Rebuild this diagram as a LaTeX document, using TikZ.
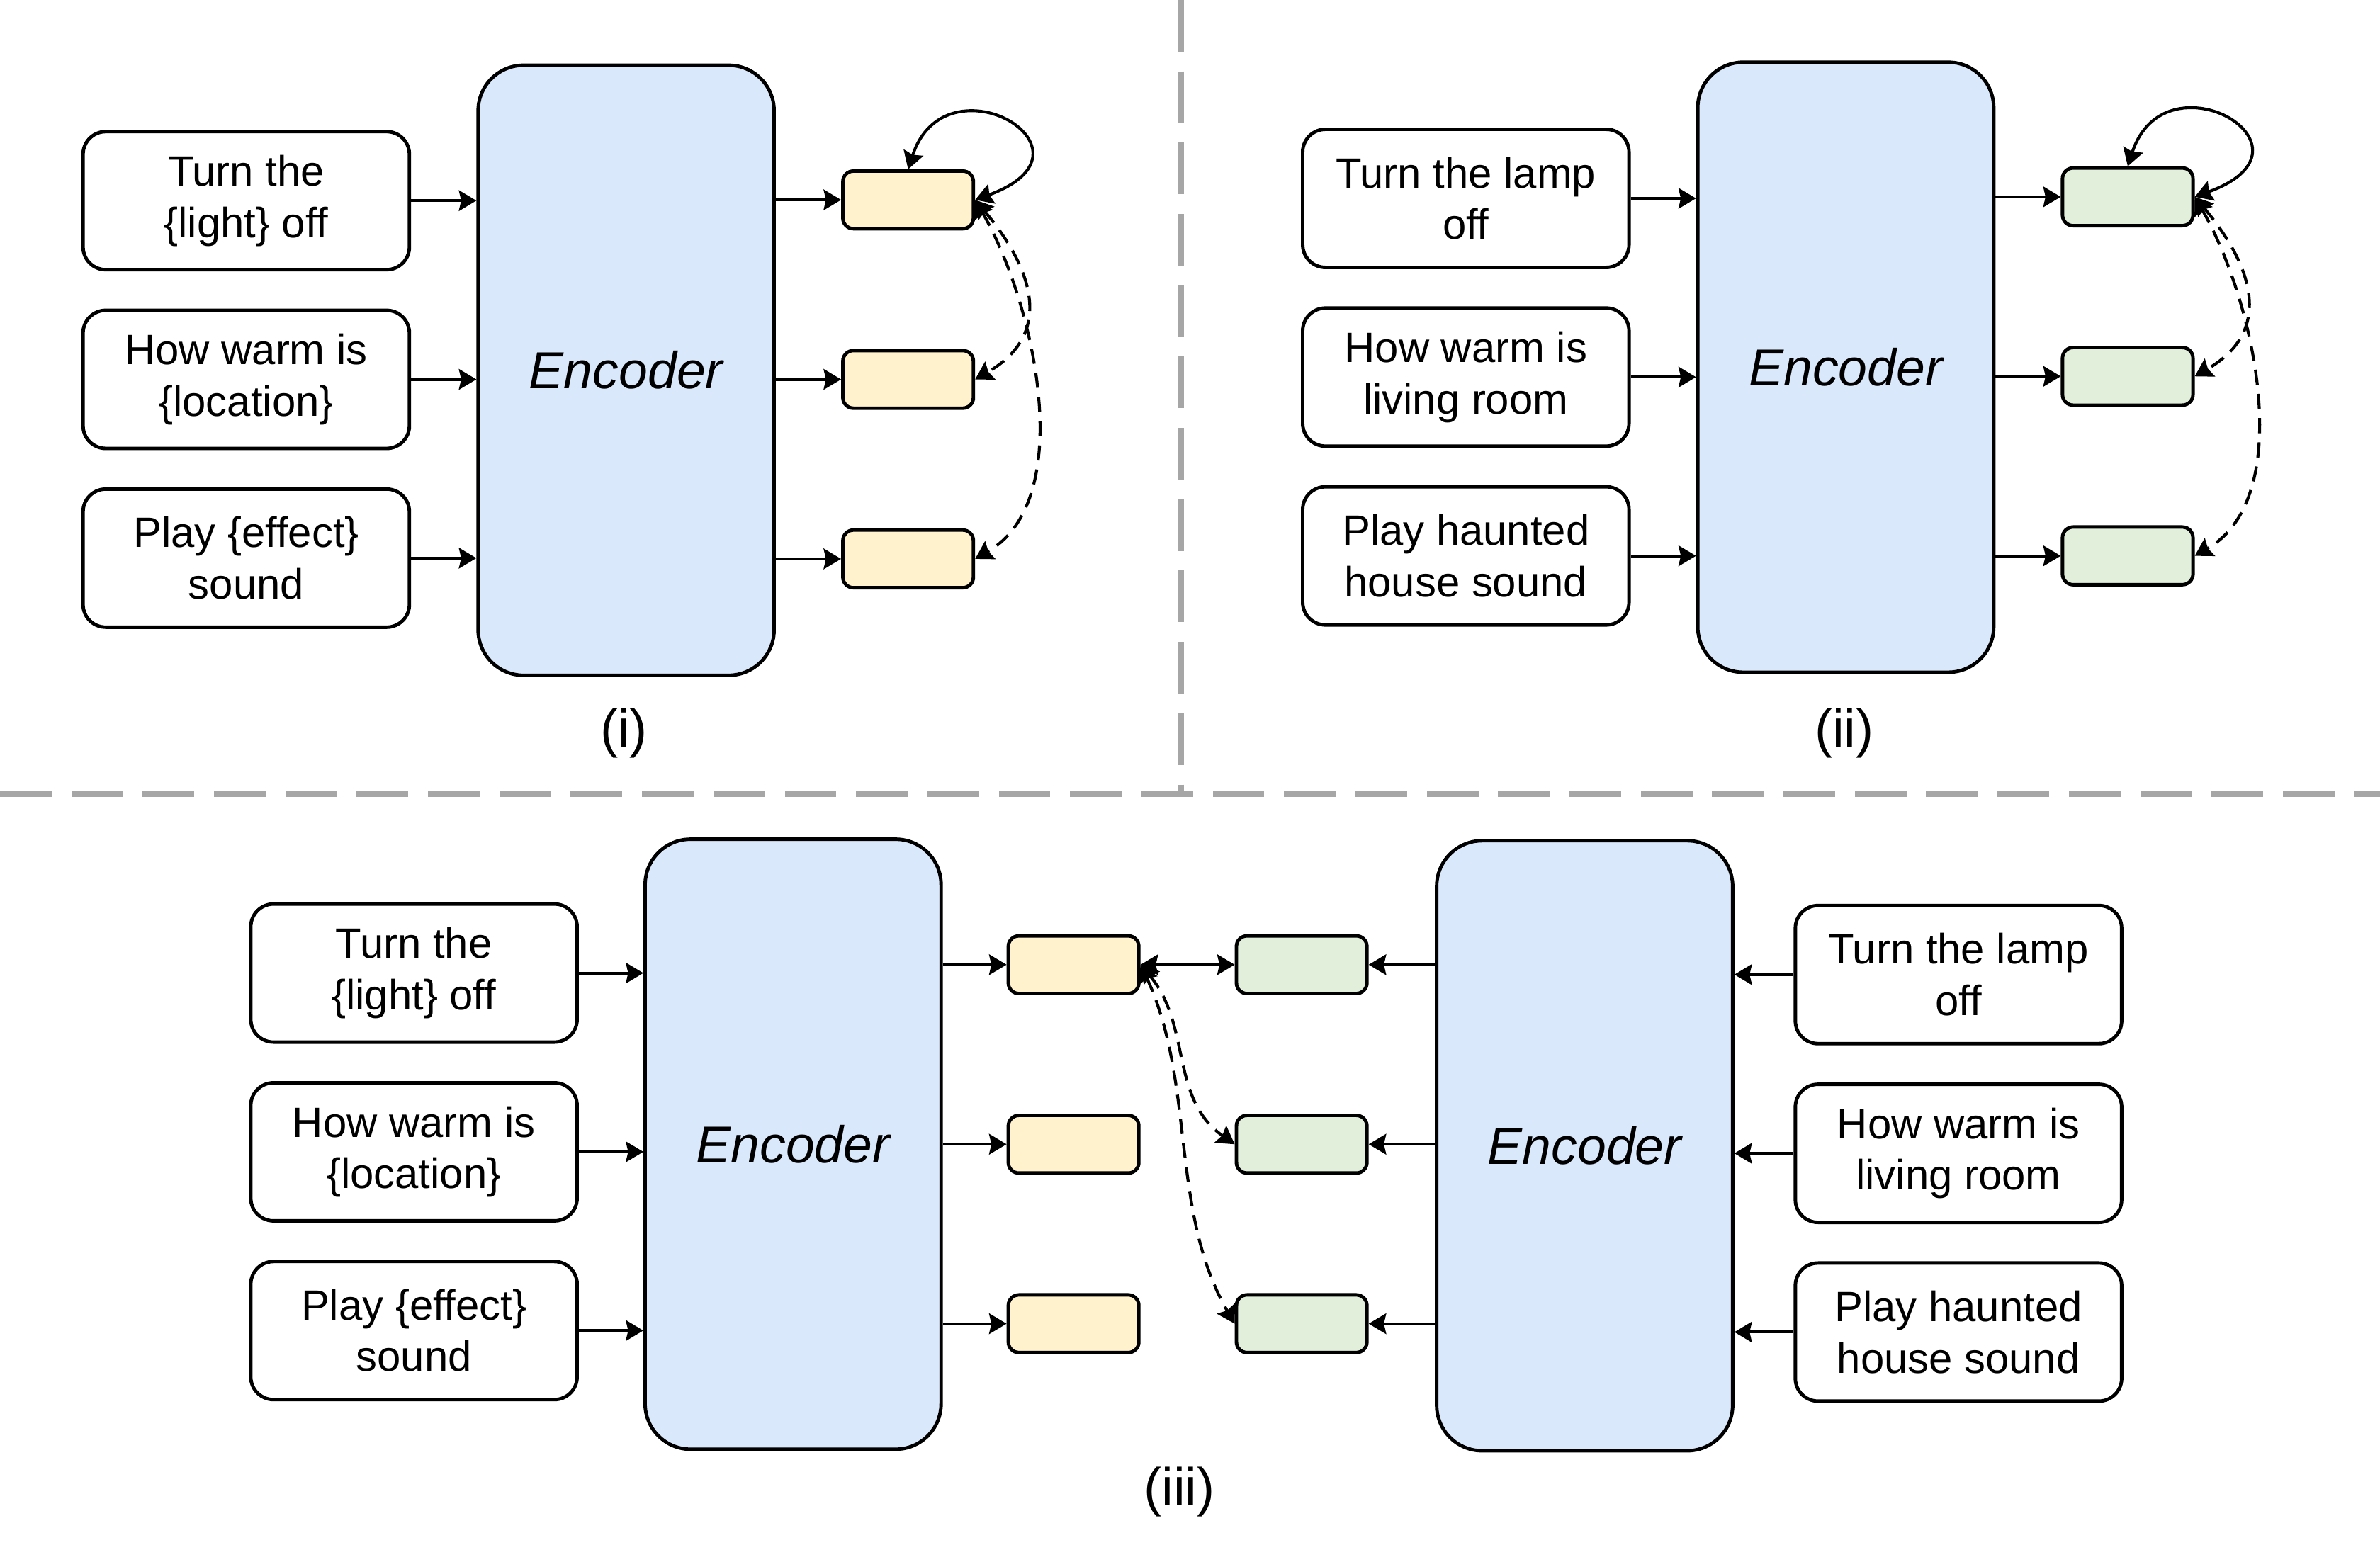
\documentclass[tikz,border=0pt]{standalone}
\usepackage{fontspec}
\setmainfont{Liberation Sans}
\usepackage{tikz}
\usetikzlibrary{positioning,arrows.meta}
\definecolor{encfill}{HTML}{DAE8FC}
\definecolor{yelfill}{HTML}{FFF2CC}
\definecolor{grnfill}{HTML}{E2EFDA}
\definecolor{sepgray}{HTML}{A6A6A6}

\begin{document}
\begin{tikzpicture}[
    >={Stealth[length=2.3mm,width=2.7mm,inset=0.3mm]},
    inbox/.style={draw, line width=1.3pt, rounded corners=3mm, minimum width=4.3cm, minimum height=1.82cm, align=center, font=\fontsize{15.9}{19.3}\selectfont},
    enc/.style={draw, line width=1.3pt, fill=encfill, rounded corners=6mm, minimum width=3.9cm, minimum height=8.04cm, font=\fontsize{19.5}{23}\selectfont\itshape},
    vec/.style={draw, line width=1.3pt, rounded corners=1.4mm, minimum width=1.72cm, minimum height=0.76cm},
    yvec/.style={vec, fill=yelfill},
    gvec/.style={vec, fill=grnfill},
    arr/.style={->, line width=1.1pt},
    link/.style={<->, line width=1.1pt},
    dlink/.style={<->, line width=1.1pt, dash pattern=on 2mm off 1.2mm},
    sep/.style={draw=sepgray, line width=0.08cm, dash pattern=on 0.68cm off 0.26cm},
    tag/.style={font=\fontsize{20}{24}\selectfont}
]
    \useasboundingbox (0,0) rectangle (31.36,20.58);

    % separators
    \draw[sep] (15.56,20.58) -- (15.56,10.12);
    \draw[sep] (0,10.12) -- (31.36,10.12);

    % (i)
    \node[enc] (enc1) at (8.25,15.70) {Encoder};
    \node[inbox, left=0.86cm of enc1, yshift=-0.12cm] (in12) {How warm is\\\{location\}};
    \node[inbox, above=0.49cm of in12] (in11) {Turn the\\\{light\} off};
    \node[inbox, below=0.49cm of in12] (in13) {Play \{effect\}\\sound};
    \node[yvec, right=0.86cm of enc1, yshift=-0.12cm] (y12) {};
    \node[yvec, above=1.56cm of y12] (y11) {};
    \node[yvec, below=1.56cm of y12] (y13) {};
    \node[tag] (lab1) at (8.22,10.92) {(i)};

    \foreach \i in {1,2,3} {
        \draw[arr] (in1\i) -- (in1\i -| enc1.west);
        \draw[arr] (y1\i -| enc1.east) -- (y1\i);
    }
    \draw[link] (y11.east) .. controls +(20:1.9) and +(72:1.6) .. (y11.north);
    \draw[dlink] (y11.east) to[out=-50, in=30, looseness=1.3] (y12.east);
    \draw[dlink] (y11.east) to[out=-60, in=30, looseness=0.85] (y13.east);

    % (ii)
    \node[enc] (enc2) at (24.32,15.74) {Encoder};
    \node[inbox, left=0.86cm of enc2, yshift=-0.13cm] (in22) {How warm is\\living room};
    \node[inbox, above=0.49cm of in22] (in21) {Turn the lamp\\off};
    \node[inbox, below=0.49cm of in22] (in23) {Play haunted\\house sound};
    \node[gvec, right=0.86cm of enc2, yshift=-0.12cm] (g22) {};
    \node[gvec, above=1.56cm of g22] (g21) {};
    \node[gvec, below=1.56cm of g22] (g23) {};
    \node[tag] (lab2) at (24.30,10.92) {(ii)};

    \foreach \i in {1,2,3} {
        \draw[arr] (in2\i) -- (in2\i -| enc2.west);
        \draw[arr] (g2\i -| enc2.east) -- (g2\i);
    }
    \draw[link] (g21.east) .. controls +(20:1.9) and +(72:1.6) .. (g21.north);
    \draw[dlink] (g21.east) to[out=-50, in=30, looseness=1.3] (g22.east);
    \draw[dlink] (g21.east) to[out=-60, in=30, looseness=0.85] (g23.east);

    % (iii)
    \node[enc] (enc3) at (10.45,5.50) {Encoder};
    \node[inbox, left=0.85cm of enc3, yshift=-0.1cm] (in32) {How warm is\\\{location\}};
    \node[inbox, above=0.49cm of in32] (in31) {Turn the\\\{light\} off};
    \node[inbox, below=0.49cm of in32] (in33) {Play \{effect\}\\sound};
    \node[yvec, right=0.84cm of enc3] (y32) {};
    \node[yvec, above=1.56cm of y32] (y31) {};
    \node[yvec, below=1.56cm of y32] (y33) {};
    \node[gvec, right=1.24cm of y32] (g32) {};
    \node[gvec, above=1.56cm of g32] (g31) {};
    \node[gvec, below=1.56cm of g32] (g33) {};
    \node[enc] (enc4) at (20.88,5.48) {Encoder};
    \node[inbox, right=0.78cm of enc4, yshift=-0.1cm] (r32) {How warm is\\living room};
    \node[inbox, above=0.49cm of r32] (r31) {Turn the lamp\\off};
    \node[inbox, below=0.49cm of r32] (r33) {Play haunted\\house sound};
    \node[tag] (lab3) at (15.54,0.92) {(iii)};

    \foreach \i in {1,2,3} {
        \draw[arr] (in3\i) -- (in3\i -| enc3.west);
        \draw[arr] (y3\i -| enc3.east) -- (y3\i);
        \draw[arr] (g3\i -| enc4.west) -- (g3\i);
        \draw[arr] (r3\i) -- (r3\i -| enc4.east);
    }
    \draw[link] (y31) -- (g31);
    \draw[dlink] (y31.east) to[out=-50, in=145] (g32.west);
    \draw[dlink] (y31.east) to[out=-65, in=120, looseness=0.9] (g33.west);
\end{tikzpicture}
\end{document}
